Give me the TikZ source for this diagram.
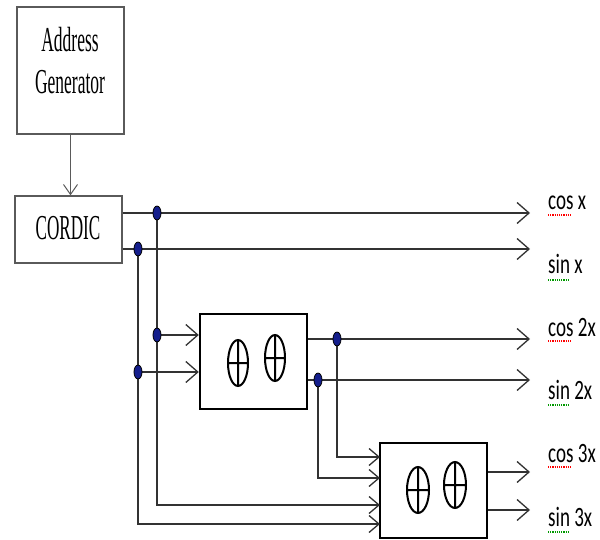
\documentclass[tikz,border=0pt]{standalone}
\usepackage{fontspec}
\setmainfont{Liberation Serif}
\newfontfamily\lblfont{Carlito}
\usetikzlibrary{arrows.meta,shapes.geometric}
\definecolor{dotblue}{RGB}{20,30,140}
\definecolor{linegray}{RGB}{50,50,50}
\definecolor{boxgray}{RGB}{90,90,90}
\tikzset{
  thinbox/.style={draw=boxgray, line width=1.3pt, fill=white, rectangle, inner sep=0pt},
  thickbox/.style={draw=black, line width=2.4pt, fill=white, rectangle, inner sep=0pt},
  jdot/.style={ellipse, draw=black, line width=0.8pt, fill=dotblue, minimum width=8pt, minimum height=14pt, inner sep=0pt},
  sig/.style={draw=linegray, line width=1.4pt},
  bigarr/.style={sig, -{Straight Barb[length=12pt,width=21pt,line width=1.3pt]}},
  smallarr/.style={sig, -{Straight Barb[length=10pt,width=17pt,line width=1.3pt]}},
  lbl/.style={anchor=base west, inner sep=0pt, font=\lblfont\fontsize{28}{28}\selectfont},
  serifbig/.style={inner sep=0pt, font=\fontsize{35}{43}\selectfont},
  xorsym/.style={draw=black, line width=2pt},
}
\begin{document}
\begin{tikzpicture}[x=1pt,y=-1pt]
\useasboundingbox (0,0) rectangle (600,540);
% boxes
\node[thinbox, minimum width=107pt, minimum height=127pt] (addr) at (70.5,70.5) {};
\node[serifbig, anchor=base] (addrt1) at (70,52) {\scalebox{0.5}[1]{Address}};
\node[serifbig, anchor=base] (addrt2) at (70,94) {\scalebox{0.5}[1]{Generator}};
\node[thinbox, minimum width=107pt, minimum height=67pt] (cordic) at (68.5,229.5) {};
\node[serifbig, anchor=base] (cordict) at (68,240) {\scalebox{0.49}[1]{CORDIC}};
\node[thickbox, minimum width=107pt, minimum height=95pt] (m1) at (253.5,361.5) {};
\node[thickbox, minimum width=107pt, minimum height=95pt] (m2) at (433.5,490.5) {};
% xor symbols
\draw[xorsym] (238,363) ellipse (10 and 23) (228,363) -- (248,363) (238,340) -- (238,386);
\draw[xorsym] (275,358) ellipse (10 and 23) (265,358) -- (285,358) (275,335) -- (275,381);
\draw[xorsym] (418,490) ellipse (11 and 23) (407,490) -- (429,490) (418,467) -- (418,513);
\draw[xorsym] (455,485) ellipse (11 and 23) (444,485) -- (466,485) (455,462) -- (455,508);
% junction points
\coordinate (d1) at (157,213);
\coordinate (d2) at (138,249);
\coordinate (d3) at (157,335);
\coordinate (d4) at (138,372);
\coordinate (d5) at (337,339);
\coordinate (d6) at (318,380);
% outputs
\coordinate (ocx) at (530,213);
\coordinate (osx) at (530,249);
\coordinate (oc2) at (530,339);
\coordinate (os2) at (530,380);
\coordinate (oc3) at (530,472);
\coordinate (os3) at (530,510);
% inputs of second block
\coordinate (i1) at (380,457);
\coordinate (i2) at (380,478);
\coordinate (i3) at (380,505);
\coordinate (i4) at (380,524);
% connectors
\draw[sig, line width=1.1pt, draw=boxgray, -{Straight Barb[length=10pt,width=14pt,line width=1pt]}] (addr.south) -- (addr.south |- cordic.north);
\draw[bigarr] (cordic.east |- d1) -- (ocx);
\draw[bigarr] (cordic.east |- d2) -- (osx);
\draw[smallarr] (d1) -- (d3) |- (i3);
\draw[smallarr] (d2) -- (d4) |- (i4);
\draw[bigarr] (d3) -- (m1.west |- d3);
\draw[bigarr] (d4) -- (m1.west |- d4);
\draw[bigarr] (m1.east |- d5) -- (oc2);
\draw[bigarr] (m1.east |- d6) -- (os2);
\draw[smallarr] (d5) |- (i1);
\draw[smallarr] (d6) |- (i2);
\draw[bigarr] (m2.east |- oc3) -- (oc3);
\draw[bigarr] (m2.east |- os3) -- (os3);
% dots
\foreach \d in {d1,d2,d3,d4,d5,d6} \node[jdot] at (\d) {};
% labels
\node[lbl] (lcx) at (548,210) {\scalebox{0.68}[1]{cos x}};
\node[lbl] (lsx) at (548,274) {\scalebox{0.68}[1]{sin x}};
\node[lbl] (lc2) at (548,336) {\scalebox{0.68}[1]{cos 2x}};
\node[lbl] (ls2) at (548,399) {\scalebox{0.68}[1]{sin 2x}};
\node[lbl] (lc3) at (548,462) {\scalebox{0.68}[1]{cos 3x}};
\node[lbl] (ls3) at (548,526) {\scalebox{0.68}[1]{sin 3x}};
% spelling marks
\draw[red, densely dotted, line width=1.2pt] (548,215) -- (571,215);
\draw[green!60!black, densely dotted, line width=1.2pt] (548,280) -- (568,280);
\draw[red, densely dotted, line width=1.2pt] (548,341) -- (571,341);
\draw[green!60!black, densely dotted, line width=1.2pt] (548,405) -- (568,405);
\draw[red, densely dotted, line width=1.2pt] (548,467) -- (571,467);
\draw[green!60!black, densely dotted, line width=1.2pt] (548,532) -- (568,532);
\end{tikzpicture}
\end{document}
